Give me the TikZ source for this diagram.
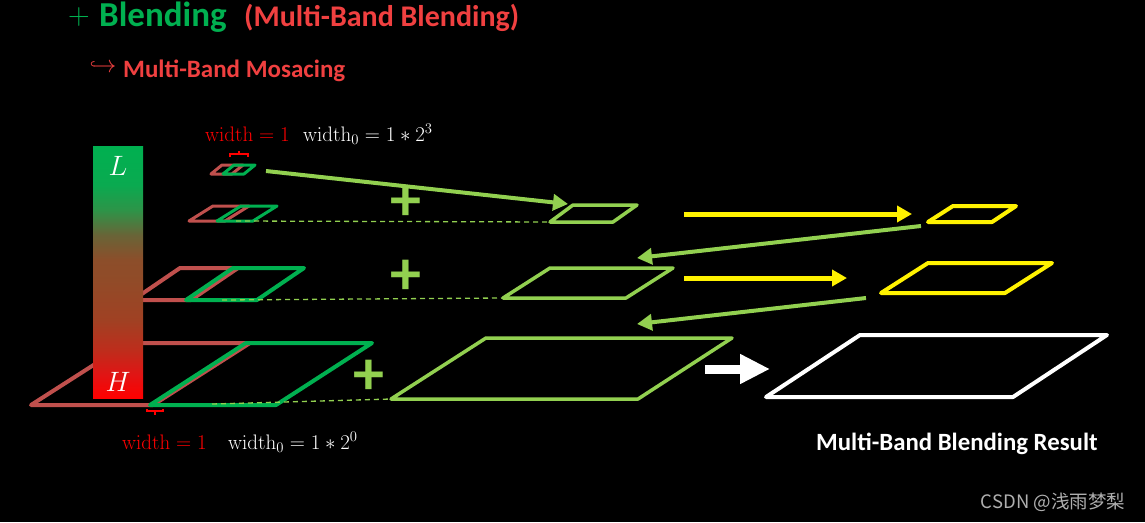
\RequirePackage{fix-cm}
\documentclass[tikz,border=0pt]{standalone}
\usepackage[no-math]{fontspec}
\setmainfont{Carlito}
\newfontfamily\cjkfont{Noto Sans CJK SC}
\usetikzlibrary{arrows.meta}
\definecolor{bgreen}{HTML}{00B050}
\definecolor{lgreen}{HTML}{92D050}
\definecolor{pinkred}{HTML}{C0504D}
\definecolor{titlered}{RGB}{240,64,64}
\definecolor{wmgray}{RGB}{175,175,175}
\definecolor{sA}{RGB}{255,0,0}
\definecolor{sB}{RGB}{225,20,20}
\definecolor{sC}{RGB}{190,45,28}
\definecolor{sD}{RGB}{160,65,35}
\definecolor{sE}{RGB}{145,75,40}
\definecolor{sF}{RGB}{140,78,42}
\definecolor{sG}{RGB}{105,100,55}
\definecolor{sH}{RGB}{45,148,72}
\definecolor{sI}{RGB}{10,170,80}
\definecolor{sJ}{RGB}{0,176,80}
\pgfdeclareverticalshading{barshade}{100bp}{color(0bp)=(sA); color(25bp)=(sA); color(29.6bp)=(sB); color(34.5bp)=(sC); color(40.5bp)=(sD); color(48.4bp)=(sE); color(52.4bp)=(sF); color(57.3bp)=(sG); color(62.3bp)=(sH); color(67.3bp)=(sI); color(75bp)=(sJ); color(100bp)=(sJ)}
\begin{document}
\begin{tikzpicture}[x=1pt,y=-1pt,
  par/.style={line width=4pt, line join=round},
  parthin/.style={line width=3pt, line join=round},
  redp/.style={draw=pinkred},
  grnp/.style={draw=bgreen},
  lgp/.style={par, draw=lgreen, line width=3.5pt},
  ylp/.style={par, draw=yellow},
  whp/.style={par, draw=white},
  dashln/.style={draw=lgreen, line width=1.3pt, dash pattern=on 5pt off 4pt},
  garrow/.style={draw=lgreen, line width=4pt, -{Triangle[length=15pt,width=16pt]}},
  yarrow/.style={draw=yellow, line width=5pt, -{Triangle[length=15pt,width=16pt]}},
  warrow/.style={draw=white, line width=9pt, -{Triangle[length=30pt,width=28pt]}},
  brk/.style={draw=red, line width=2.5pt},
  mtext/.style={inner sep=0pt, anchor=base west, font=\fontsize{21}{25}\selectfont},
  bigplus/.style={inner sep=0pt, text=lgreen, font=\bfseries\fontsize{62}{62}\selectfont},
  ttl/.style={inner sep=0pt, anchor=base west, font=\bfseries}
]
\fill[black] (0,0) rectangle (1145,522);
\useasboundingbox (0,0) rectangle (1145,522);

% ---- titles
\node[inner sep=0pt, text=bgreen, font=\fontsize{30}{30}\selectfont] (tplus) at (79,17) {$+$};
\node[ttl, text=bgreen, font=\bfseries\fontsize{35}{38}\selectfont] (tblend) at (99,27) {Blending};
\node[ttl, text=titlered, font=\bfseries\fontsize{30}{34}\selectfont] (tmb) at (244,27) {(Multi-Band Blending)};
\node[inner sep=0pt, text=titlered, font=\fontsize{24}{24}\selectfont] (hook) at (103,67) {$\hookrightarrow$};
\node[ttl, text=titlered, font=\bfseries\fontsize{25}{28}\selectfont] (tmos) at (123,77) {Multi-Band Mosacing};

% ---- left pyramid: red (first image) layers
\draw[redp, parthin] (211,174) -- (232,174) -- (243,165) -- (222,165) -- cycle;
\draw[redp, parthin] (189,221) -- (225,221) -- (249,206) -- (213,206) -- cycle;
\draw[redp, par] (133,300) -- (191,300) -- (238,268) -- (180,268) -- cycle;
\draw[redp, par] (31,405) -- (153,405) -- (250,343) -- (128,343) -- cycle;
% green (second image) layers
\draw[grnp, parthin] (223,174) -- (244,174) -- (255,165) -- (234,165) -- cycle;
\draw[grnp, parthin] (217,221) -- (253,221) -- (277,206) -- (241,206) -- cycle;
\draw[grnp, par] (186,300) -- (257,300) -- (304,268) -- (233,268) -- cycle;
\draw[grnp, par] (150,405) -- (276,405) -- (372,343) -- (246,343) -- cycle;

% ---- gradient bar
\node[name=bar, shading=barshade, minimum width=50pt, minimum height=252pt, inner sep=0pt, draw=none] at (118,272) {};
\node[inner sep=0pt, text=white, font=\fontsize{28}{28}\selectfont] (Llbl) at (118,166) {$L$};
\node[inner sep=0pt, text=white, font=\fontsize{28}{28}\selectfont] (Hlbl) at (118,382) {$H$};

% ---- width brackets and labels
\draw[brk] (230,157) -- (230,154) -- (248,154) -- (248,157);
\draw[brk] (239,154) -- (239,151);
\draw[brk] (147,409) -- (147,411) -- (163,411) -- (163,409);
\draw[brk] (155,411) -- (155,415);
\node[mtext, text=red] (w1top) at (205,141) {$\mathrm{width}=1$};
\node[mtext, text=white] (w0top) at (303,141) {$\mathrm{width}_0=1*2^3$};
\node[mtext, text=red] (w1bot) at (122,449) {$\mathrm{width}=1$};
\node[mtext, text=white] (w0bot) at (228,449) {$\mathrm{width}_0=1*2^0$};

% ---- coordinates
\coordinate (l1e) at (266,171);
\coordinate (l2e) at (236,221);
\coordinate (l3e) at (222,300);
\coordinate (l4e) at (212,404);
\coordinate (sBL) at (550,222);
\coordinate (mBL) at (503,298);
\coordinate (mTR) at (673,268);
\coordinate (bBL) at (391,399);
\coordinate (ySmBL) at (928,222);
\coordinate (yMdBL) at (881,293);
\coordinate (g1tip) at (568,204);
\coordinate (y1s) at (684,214);
\coordinate (y1t) at (912,214);
\coordinate (g2s) at (921,226);
\coordinate (g2t) at (637,258);
\coordinate (y2s) at (684,278);
\coordinate (y2t) at (847,278);
\coordinate (g3s) at (866,298);
\coordinate (g3t) at (637,324);
\coordinate (ws) at (705,369);
\coordinate (wt) at (770,369);

% ---- blended pyramid (light green)
\draw[lgp] (sBL) -- (613,222) -- (637,205) -- (573,205) -- cycle;
\draw[lgp] (mBL) -- (626,298) -- (mTR) -- (550,268) -- cycle;
\draw[lgp] (bBL) -- (638,399) -- (732,338) -- (486,338) -- cycle;
% yellow
\draw[ylp] (ySmBL) -- (992,222) -- (1016,206) -- (953,206) -- cycle;
\draw[ylp] (yMdBL) -- (1005,293) -- (1052,263) -- (928,263) -- cycle;
% white result
\draw[whp] (766,397) -- (1013,397) -- (1107,335) -- (860,335) -- cycle;

% ---- dashed guide lines
\draw[dashln] (l2e) -- (sBL);
\draw[dashln] (l3e) -- (mBL);
\draw[dashln] (l4e) -- (bBL);

% ---- plus signs
\node[bigplus] (p1) at (406,203) {+};
\node[bigplus] (p2) at (406,277) {+};
\node[bigplus] (p3) at (369,377) {+};

% ---- arrows
\draw[garrow] (l1e) -- (g1tip);
\draw[yarrow] (y1s) -- (y1t);
\draw[garrow] (g2s) -- (g2t);
\draw[yarrow] (y2s) -- (y2t);
\draw[garrow] (g3s) -- (g3t);
\draw[warrow] (ws) -- (wt);

% ---- result caption and watermark
\node[ttl, text=white, font=\bfseries\fontsize{24.8}{28}\selectfont] (res) at (816,450) {Multi-Band Blending Result};
\node[inner sep=0pt, text=wmgray, font=\cjkfont\fontsize{18.5}{20}\selectfont] (wm) at (1053,502) {CSDN @浅雨梦梨};
\end{tikzpicture}
\end{document}
